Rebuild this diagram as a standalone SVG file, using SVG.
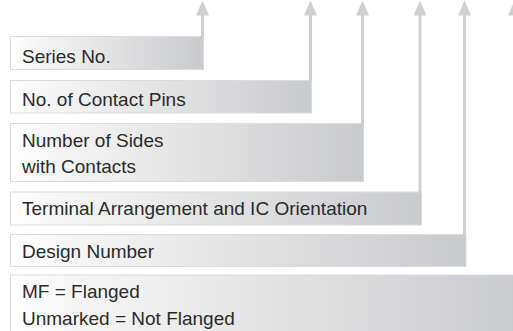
<svg xmlns="http://www.w3.org/2000/svg" width="513" height="331" viewBox="0 0 513 331">
<style>
.box{fill:url(#g);stroke:#dadbdc;stroke-width:1}
.lbl{font-family:"Liberation Sans",Arial,sans-serif;font-size:19px;fill:#2b2b2b}
.con{stroke:#cfd0d2;stroke-width:3;fill:none;marker-end:url(#ah)}
</style>
<defs>
<linearGradient id="g" x1="0" y1="0" x2="1" y2="0">
<stop offset="0" stop-color="#ffffff"/>
<stop offset="0.12" stop-color="#f6f6f6"/>
<stop offset="1" stop-color="#c9cacc"/>
</linearGradient>
<marker id="ah" markerUnits="userSpaceOnUse" markerWidth="16" markerHeight="14" viewBox="0 -7 16 14" refX="0.5" refY="0" orient="auto">
<path d="M0,-6.5 L15,0 L0,6.5 Z" fill="#cfd0d2"/>
</marker>
</defs>
<g id="n1"><rect class="box" x="10.5" y="36.5" width="193" height="33"/><text class="lbl" x="22" y="63">Series No.</text></g>
<g id="n2"><rect class="box" x="10.5" y="80.5" width="301" height="32.5"/><text class="lbl" x="22" y="106">No. of Contact Pins</text></g>
<g id="n3"><rect class="box" x="10.5" y="123.5" width="353" height="58"/><text class="lbl" x="22" y="147">Number of Sides</text><text class="lbl" x="22" y="173">with Contacts</text></g>
<g id="n4"><rect class="box" x="10.5" y="192" width="411" height="33"/><text class="lbl" x="22" y="215">Terminal Arrangement and IC Orientation</text></g>
<g id="n5"><rect class="box" x="10.5" y="234.5" width="455.5" height="32"/><text class="lbl" x="22" y="257.5">Design Number</text></g>
<g id="n6"><rect class="box" x="10.5" y="275" width="520" height="70"/><text class="lbl" x="22" y="298">MF = Flanged</text><text class="lbl" x="22" y="325">Unmarked = Not Flanged</text></g>
<g id="connectors">
<line class="con" x1="202.5" y1="37" x2="202.5" y2="15"/>
<line class="con" x1="310.5" y1="81" x2="310.5" y2="15"/>
<line class="con" x1="362.5" y1="124" x2="362.5" y2="15"/>
<line class="con" x1="420" y1="192.5" x2="420" y2="15"/>
<line class="con" x1="464.5" y1="235" x2="464.5" y2="15"/>
<line class="con" x1="514.5" y1="275.5" x2="514.5" y2="15"/>
</g>
</svg>
